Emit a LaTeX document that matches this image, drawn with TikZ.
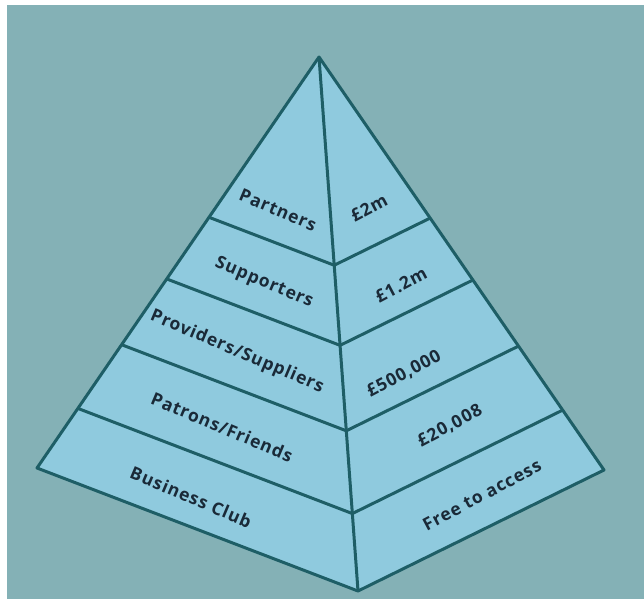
\documentclass[tikz,border=0pt]{standalone}
\usepackage{fontspec}
\setmainfont{Open Sans}[LetterSpace=5]
\usetikzlibrary{calc}
\definecolor{bgteal}{HTML}{84B1B6}
\definecolor{face}{HTML}{8FCADE}
\definecolor{edge}{HTML}{1E5E66}
\definecolor{ink}{HTML}{1A2A38}

\begin{document}
\begin{tikzpicture}[x=1pt,y=-1pt,
  lbl/.style={font=\bfseries\fontsize{17.5}{20}\selectfont,text=ink,inner sep=0pt},
  lside/.style={lbl,rotate=-23},
  rside/.style={lbl,rotate=28},
  ln/.style={draw=edge,line width=3pt,line join=round}]

      \useasboundingbox (0,0) rectangle (644,599);
      \fill[white] (0,0) rectangle (644,599);
      \fill[bgteal] (7,5) rectangle (644,599);

      \coordinate (top) at (319,57);
      \coordinate (left) at (37,468);
      \coordinate (right) at (604,470);
      \coordinate (bottom) at (358,591);

      \fill[face] (top) -- (left) -- (bottom) -- (right) -- cycle;

      \foreach \t [count=\i] in {0.39,0.54,0.70,0.855} {
        \coordinate (l\i) at ($(top)!\t!(left)$);
        \coordinate (m\i) at ($(top)!\t!(bottom)$);
        \coordinate (r\i) at ($(top)!\t!(right)$);
        \draw[ln] (l\i) -- (m\i) -- (r\i);
      }

      \draw[ln] (top) -- (left) -- (bottom) -- (right) -- cycle;
      \draw[ln] (top) -- (bottom);

      \node[lside] (partners) at (278,210) {Partners};
      \node[lside] (supporters) at (264,283) {Supporters};
      \node[lside] (providers) at (237,352) {Providers/Suppliers};
      \node[lside] (patrons) at (222,427) {Patrons/Friends};
      \node[lside] (club) at (191,497) {Business Club};

      \node[rside] (two) at (369,208) {£2m};
      \node[rside] (onetwo) at (401,285) {£1.2m};
      \node[rside] (fivek) at (404,374) {£500,000};
      \node[rside] (twentyk) at (450,426) {£20,008};
      \node[rside] (free) at (482,495) {Free to access};

    \end{tikzpicture}
\end{document}
